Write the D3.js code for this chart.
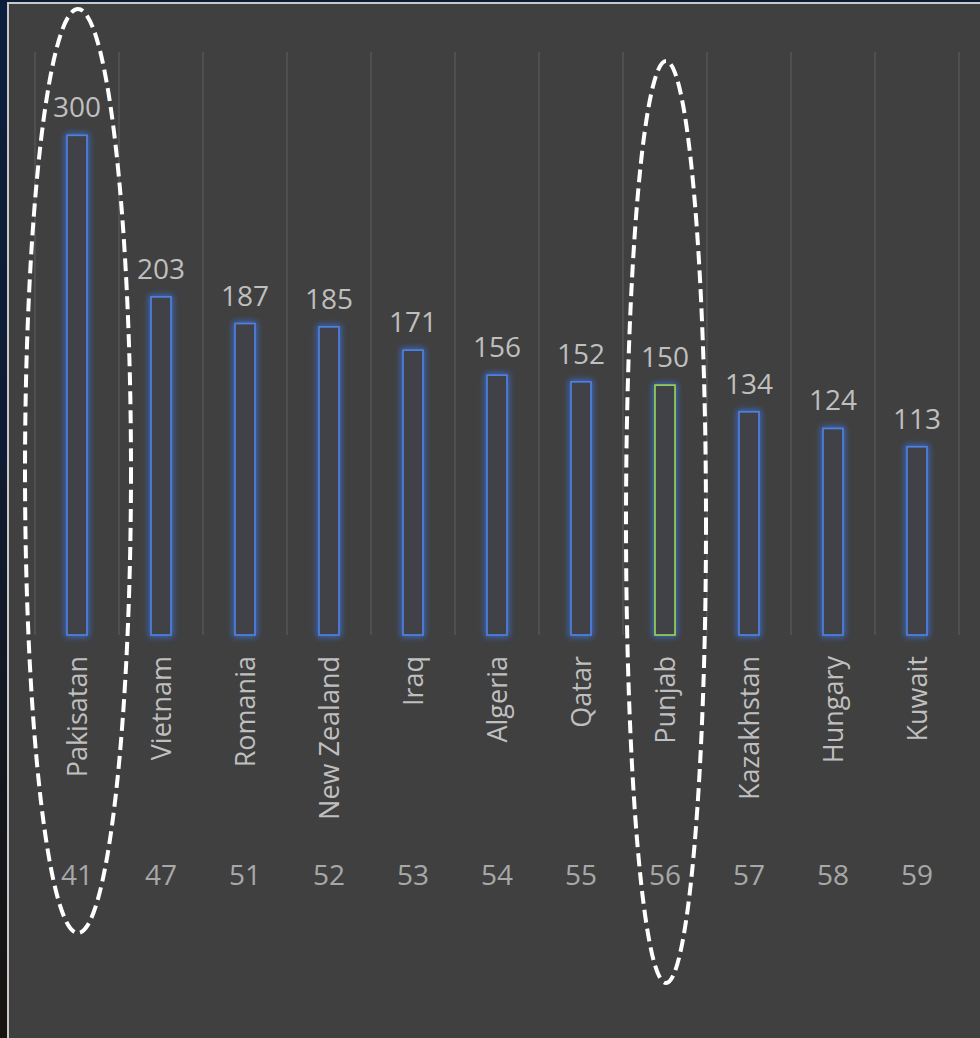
<!DOCTYPE html>
<html>
<head>
<meta charset="utf-8">
<script src="https://cdn.jsdelivr.net/npm/d3@7"></script>
<style>
  html, body { margin: 0; padding: 0; background: #0c1a30; }
  svg { display: block; }
  text { font-family: "Open Sans", sans-serif; }
</style>
</head>
<body>
<svg width="980" height="1038"></svg>
<script>
var categories = ["Pakisatan", "Vietnam", "Romania", "New Zealand", "Iraq", "Algeria",
                  "Qatar", "Punjab", "Kazakhstan", "Hungary", "Kuwait"];
var values = [300, 203, 187, 185, 171, 156, 152, 150, 134, 124, 113];
var ranks = [41, 47, 51, 52, 53, 54, 55, 56, 57, 58, 59];
var circled = ["Pakisatan", "Punjab"];
var greenBar = "Punjab";

var svg = d3.select("svg"),
    width = +svg.attr("width"),
    height = +svg.attr("height");

// backdrop: dark photo strip on the left, panel on top of it
var defs = svg.append("defs");
var grad = defs.append("linearGradient").attr("id", "strip")
    .attr("x1", 0).attr("y1", 0).attr("x2", 0).attr("y2", 1);
grad.append("stop").attr("offset", "0%").attr("stop-color", "#0b1f3e");
grad.append("stop").attr("offset", "40%").attr("stop-color", "#0f1c33");
grad.append("stop").attr("offset", "100%").attr("stop-color", "#17140f");
svg.append("rect").attr("width", width).attr("height", height).attr("fill", "url(#strip)");
svg.append("rect").attr("x", 0).attr("y", 0).attr("width", width).attr("height", 3).attr("fill", "#0c1d3a");
svg.append("rect").attr("x", 7).attr("y", 2).attr("width", width - 7).attr("height", height - 2).attr("fill", "#c9c9c9");
svg.append("rect").attr("x", 9).attr("y", 4).attr("width", width - 9).attr("height", height - 4).attr("fill", "#404040");

var glow = defs.append("filter").attr("id", "glow")
    .attr("x", "-80%").attr("y", "-20%").attr("width", "260%").attr("height", "140%");
glow.append("feMorphology").attr("in", "SourceAlpha").attr("operator", "dilate").attr("radius", 1).attr("result", "fat");
glow.append("feGaussianBlur").attr("in", "fat").attr("stdDeviation", 3).attr("result", "blur");
glow.append("feFlood").attr("flood-color", "#3a6fd8").attr("flood-opacity", 0.9);
glow.append("feComposite").attr("in2", "blur").attr("operator", "in").attr("result", "g");
var merge = glow.append("feMerge");
merge.append("feMergeNode").attr("in", "g");
merge.append("feMergeNode").attr("in", "SourceGraphic");

var x = d3.scaleBand().domain(categories).range([35, 959]).paddingInner(0).paddingOuter(0);
var y = d3.scaleLinear().domain([0, 350]).range([635, 52]);
var barW = 20;

var data = categories.map(function(c, i) {
    return {name: c, value: values[i], rank: ranks[i]};
});

// vertical gridlines at category boundaries
var bounds = categories.map(function(c) { return x(c); }).concat([x.range()[1]]);
svg.append("g").selectAll("line")
    .data(bounds)
    .enter().append("line")
    .attr("x1", function(d) { return d; })
    .attr("x2", function(d) { return d; })
    .attr("y1", y(350))
    .attr("y2", y(0))
    .attr("stroke", "#595959")
    .attr("stroke-width", 1.3);

function cx(d) { return x(d.name) + x.bandwidth() / 2; }

// bars
svg.append("g").selectAll("rect")
    .data(data)
    .enter().append("rect")
    .attr("x", function(d) { return cx(d) - barW / 2; })
    .attr("y", function(d) { return y(d.value); })
    .attr("width", barW)
    .attr("height", function(d) { return y(0) - y(d.value); })
    .attr("fill", "#414247")
    .attr("stroke", function(d) { return d.name == greenBar ? "#92d050" : "#4f80e0"; })
    .attr("stroke-width", 1.7)
    .attr("filter", "url(#glow)");

// value labels
svg.append("g").selectAll("text")
    .data(data)
    .enter().append("text")
    .attr("x", cx)
    .attr("y", function(d) { return y(d.value) - 18; })
    .attr("text-anchor", "middle")
    .attr("font-size", 28)
    .attr("fill", "#bfbfbf")
    .text(function(d) { return d.value; });

// rotated category labels
svg.append("g").selectAll("text")
    .data(data)
    .enter().append("text")
    .attr("transform", function(d) { return "translate(" + cx(d) + ",656) rotate(-90)"; })
    .attr("dy", "0.37em")
    .attr("text-anchor", "end")
    .attr("font-size", 27)
    .attr("fill", "#bfbfbf")
    .text(function(d) { return d.name; });

// rank row
svg.append("g").selectAll("text")
    .data(data)
    .enter().append("text")
    .attr("x", cx)
    .attr("y", 885)
    .attr("text-anchor", "middle")
    .attr("font-size", 28)
    .attr("fill", "#a8a8a8")
    .text(function(d) { return d.rank; });

// dashed ellipses around the circled countries
var ell = [
    {name: "Pakisatan", cy: 471, rx: 53, ry: 462},
    {name: "Punjab", cy: 522, rx: 40, ry: 461}
].filter(function(e) { return circled.indexOf(e.name) >= 0; });

svg.append("g").selectAll("ellipse")
    .data(ell)
    .enter().append("ellipse")
    .attr("cx", function(d) { return cx(d) + 1; })
    .attr("cy", function(d) { return d.cy; })
    .attr("rx", function(d) { return d.rx; })
    .attr("ry", function(d) { return d.ry; })
    .attr("fill", "none")
    .attr("stroke", "#ffffff")
    .attr("stroke-width", 4)
    .attr("stroke-dasharray", "13,6");
</script>
</body>
</html>
